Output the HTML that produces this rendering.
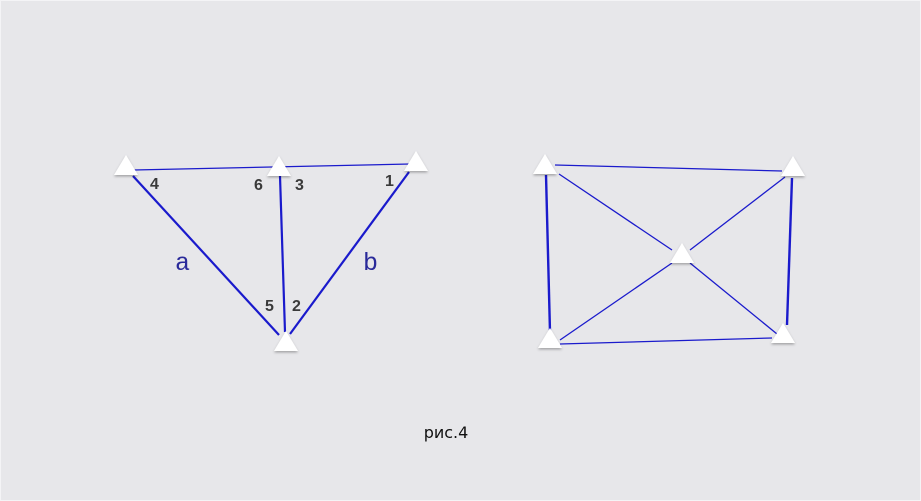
<!DOCTYPE html>
<html><head><meta charset="utf-8"><style>
body{margin:0;background:#e7e7ea;}
svg{display:block}
.mono{font-family:"Liberation Mono","Courier New",monospace;}
</style></head><body>
<svg width="921" height="501" xmlns="http://www.w3.org/2000/svg">
<defs><filter id="sh" x="-50%" y="-50%" width="200%" height="200%"><feDropShadow dx="0" dy="1.5" stdDeviation="1.2" flood-color="#000" flood-opacity="0.3"/></filter></defs>
<rect x="0.5" y="0.5" width="920" height="500" fill="#e7e7ea" stroke="#f4f4f6"/>
<g stroke="#1a1acc" fill="none">
<line x1="134" y1="170" x2="410" y2="164" stroke-width="1.3"/>
<line x1="133" y1="176" x2="279" y2="335" stroke-width="2.2"/>
<line x1="280" y1="176" x2="285" y2="332" stroke-width="2.2"/>
<line x1="409" y1="172" x2="290" y2="334" stroke-width="2.2"/>
</g>
<g stroke="#1a1acc" fill="none">
<line x1="555" y1="165" x2="782" y2="171" stroke-width="1.3"/>
<line x1="546" y1="175" x2="550" y2="332" stroke-width="2.4"/>
<line x1="792" y1="178" x2="787" y2="325" stroke-width="2.4"/>
<line x1="560" y1="344" x2="772" y2="338" stroke-width="1.3"/>
<line x1="559" y1="174" x2="672" y2="250" stroke-width="1.3"/>
<line x1="785" y1="177" x2="690" y2="250" stroke-width="1.3"/>
<line x1="560" y1="340" x2="672" y2="263" stroke-width="1.3"/>
<line x1="690" y1="263" x2="777" y2="334" stroke-width="1.3"/>
</g>
<g fill="#fff" filter="url(#sh)">
<polygon points="126,155 114,175 138,175"/>
<polygon points="279,156 267,176 291,176"/>
<polygon points="416,151 404,171 428,171"/>
<polygon points="286,331 274,351 298,351"/>
<polygon points="545,154 533,174 557,174"/>
<polygon points="793,156 781,176 805,176"/>
<polygon points="682,243 670,263 694,263"/>
<polygon points="550,328 538,348 562,348"/>
<polygon points="783,323 771,343 795,343"/>
</g>
<g style="font-family:'Liberation Sans',sans-serif;font-weight:bold;font-size:16px" fill="#3a3a3a">
<text x="150" y="189">4</text>
<text x="254" y="190">6</text>
<text x="295" y="190">3</text>
<text x="385" y="186">1</text>
<text x="265" y="311">5</text>
<text x="292" y="311">2</text>
</g>
<g class="mono" style="font-size:25px" fill="#2a2a9a">
<text x="175" y="270">a</text>
<text x="363" y="270">b</text>
</g>
<text x="446" y="438" text-anchor="middle" style="font-family:'DejaVu Sans','Liberation Sans',sans-serif;font-size:16px" fill="#111">рис.4</text>
</svg>
</body></html>
